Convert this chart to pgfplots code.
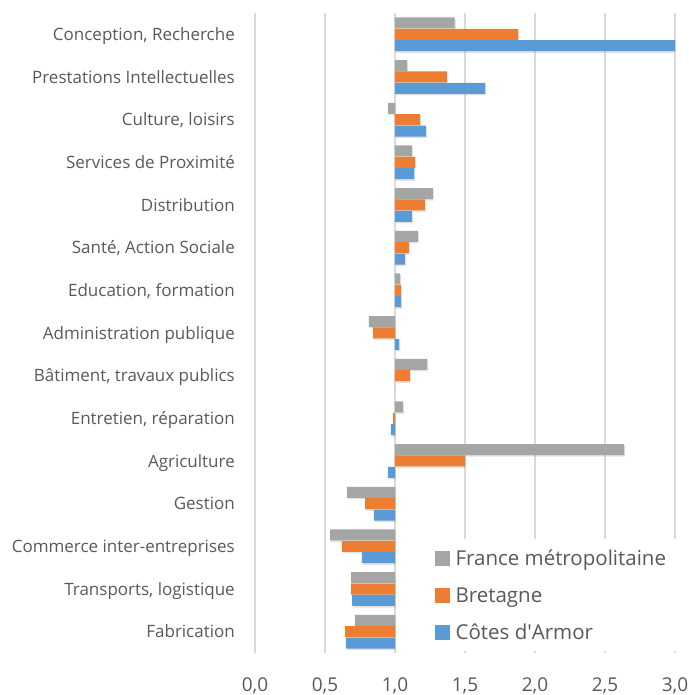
\documentclass[border=0pt]{standalone}
\usepackage{pgfplots}
\pgfplotsset{compat=1.18}
\usepackage{pgfplotstable}
\usepackage{fontspec}
\setmainfont{Open Sans}
\usetikzlibrary{shadows}
\definecolor{cgray}{HTML}{A5A5A5}
\definecolor{corange}{HTML}{ED7D31}
\definecolor{cblue}{HTML}{5B9BD5}
\definecolor{ctext}{HTML}{595959}
\definecolor{cgrid}{HTML}{D9D9D9}

\pgfplotstableread{
idx fr bre cda
14 1.426 1.879 3.05
13 1.086 1.371 1.643
12 0.950 1.179 1.221
11 1.121 1.143 1.136
10 1.271 1.214 1.121
9 1.164 1.100 1.071
8 1.036 1.043 1.043
7 0.814 0.843 1.029
6 1.229 1.107 1.000
5 1.057 0.986 0.971
4 2.636 1.500 0.950
3 0.657 0.786 0.850
2 0.536 0.621 0.764
1 0.686 0.686 0.693
0 0.714 0.643 0.650
}\datatable

\tikzset{barshadow/.style={drop shadow={shadow xshift=1.2bp,shadow yshift=-1.6bp,opacity=0.22}}}

\begin{document}
\begin{tikzpicture}
\begin{axis}[
  at={(0,0)}, anchor=south west,
  scale only axis, width=420bp, height=640bp,
  xbar, bar width=11bp,
  xmin=-1, xmax=2, ymin=-0.5, ymax=14.5,
  xtick={-1,-0.5,0,0.5,1,1.5,2},
  xticklabels={{0,0},{0,5},{1,0},{1,5},{2,0},{2,5},{3,0}},
  ytick={0,...,14},
  yticklabels={Fabrication,{Transports, logistique},Commerce inter-entreprises,Gestion,Agriculture,{Entretien, réparation},{Bâtiment, travaux publics},Administration publique,{Education, formation},{Santé, Action Sociale},Distribution,Services de Proximité,{Culture, loisirs},Prestations Intellectuelles,{Conception, Recherche}},
  major tick length=0pt,
  xmajorgrids, grid style={cgrid, line width=1.3bp},
  axis line style={draw=none},
  tick label style={text=ctext},
  xticklabel style={font=\fontsize{19bp}{22bp}\selectfont, inner sep=0pt, yshift=-25bp},
  yticklabel style={font=\fontsize{17bp}{20bp}\selectfont, inner sep=0pt, xshift=-20bp, text height=12.2bp, text depth=0bp},
  legend cell align=left,
  legend style={at={(axis description cs:0.3929,0.1786)}, anchor=north west,
    draw=none, fill=white, inner xsep=15bp, inner ysep=12bp,
    font=\fontsize{20.5bp}{24bp}\selectfont, text=ctext,
    row sep=22.4bp, column sep=6bp,
    nodes={inner sep=0pt, text height=14.6bp, text depth=0bp}},
]
\addlegendimage{legend image code/.code={\fill[cgray] (0bp,-7bp) rectangle (14bp,7bp);}}
\addlegendentry{France métropolitaine}
\addlegendimage{legend image code/.code={\fill[corange] (0bp,-7bp) rectangle (14bp,7bp);}}
\addlegendentry{Bretagne}
\addlegendimage{legend image code/.code={\fill[cblue] (0bp,-7bp) rectangle (14bp,7bp);}}
\addlegendentry{Côtes d\textquotesingle Armor}

\addplot[forget plot, fill=cgray, draw=none, bar shift=11.4bp, barshadow] table[x expr=\thisrow{fr}-1, y=idx]{\datatable};
\addplot[forget plot, fill=corange, draw=none, bar shift=0bp, barshadow] table[x expr=\thisrow{bre}-1, y=idx]{\datatable};
\addplot[forget plot, fill=cblue, draw=none, bar shift=-11.4bp, barshadow] table[x expr=\thisrow{cda}-1, y=idx]{\datatable};
\end{axis}
\pgfresetboundingbox
\path[use as bounding box] (-255bp,-42bp) rectangle (434bp,653bp);
\end{tikzpicture}
\end{document}
